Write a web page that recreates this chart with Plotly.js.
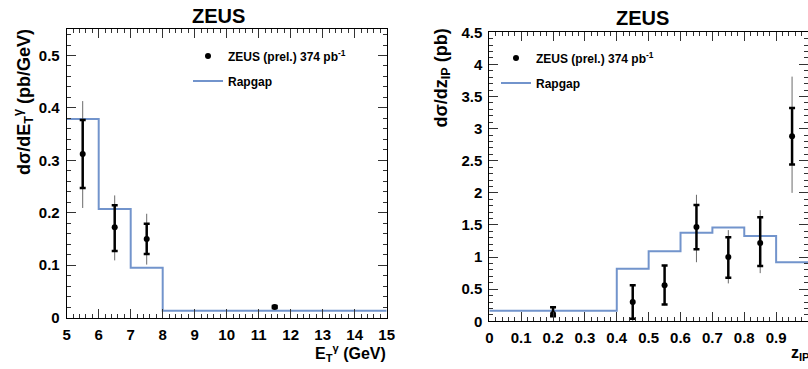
<!DOCTYPE html>
<html>
<head>
<meta charset="utf-8">
<script src="https://cdn.plot.ly/plotly-3.0.1.min.js"></script>
<style>html,body{margin:0;padding:0;background:#fff;}#chart{width:808px;height:369px;}</style>
</head>
<body>
<div id="chart"></div>
<script>
// ---- Left panel: d sigma / d E_T^gamma ----
const etX      = [5.5, 6.5, 7.5, 11.5];
const etY      = [0.312, 0.172, 0.150, 0.020];
const etStatHi = [0.377, 0.214, 0.179, 0.022];
const etStatLo = [0.247, 0.127, 0.121, 0.018];
const etTotHi  = [0.413, 0.233, 0.198, 0.023];
const etTotLo  = [0.209, 0.109, 0.101, 0.017];
const etEdges  = [5, 6, 7, 8, 15];
const etRapgap = [0.379, 0.207, 0.095, 0.013];

// ---- Right panel: d sigma / d z_IP ----
const zX      = [0.2, 0.45, 0.55, 0.65, 0.75, 0.85, 0.95];
const zY      = [0.114, 0.30, 0.56, 1.47, 1.00, 1.22, 2.88];
const zStatHi = [0.22, 0.56, 0.87, 1.81, 1.31, 1.62, 3.32];
const zStatLo = [0.08, 0.04, 0.26, 1.12, 0.68, 0.86, 2.44];
const zTotHi  = [0.23, 0.58, 0.88, 1.97, 1.42, 1.73, 3.81];
const zTotLo  = [0.07, 0.00, 0.25, 0.92, 0.59, 0.75, 2.00];
const zEdges  = [0, 0.4, 0.5, 0.6, 0.7, 0.8, 0.9, 1.0];
const zRapgap = [0.166, 0.82, 1.09, 1.38, 1.46, 1.33, 0.92];

const dataLabel = 'ZEUS (prel.) 374 pb<sup>-1</sup>';
const mcLabel = 'Rapgap';
const mcColor = '#7294cc';

function diffUp(hi, y){ return hi.map((v,i)=>v-y[i]); }
function diffDn(lo, y){ return lo.map((v,i)=>y[i]-v); }
function stepY(vals){ return vals.concat([vals[vals.length-1]]); }

function panelTraces(x, y, sHi, sLo, tHi, tLo, edges, mc, xa, ya, lgData, lgMc){
  return [
    {type:'scatter', mode:'lines', x:edges, y:stepY(mc), line:{shape:'hv', color:mcColor, width:2},
     name:mcLabel, xaxis:xa, yaxis:ya, legend:lgMc, showlegend:true, hoverinfo:'skip'},
    {type:'scatter', mode:'markers', x:x, y:y, marker:{size:1, color:'rgba(0,0,0,0)'},
     error_y:{type:'data', symmetric:false, array:diffUp(tHi,y), arrayminus:diffDn(tLo,y),
              thickness:1, width:0, color:'#6a6a6a'},
     xaxis:xa, yaxis:ya, showlegend:false, hoverinfo:'skip'},
    {type:'scatter', mode:'markers', x:x, y:y, marker:{size:6, color:'#000', symbol:'circle'},
     error_y:{type:'data', symmetric:false, array:diffUp(sHi,y), arrayminus:diffDn(sLo,y),
              thickness:2.5, width:3, color:'#000'},
     name:dataLabel, xaxis:xa, yaxis:ya, legend:lgData, showlegend:true}
  ];
}

const traces = [].concat(
  panelTraces(etX, etY, etStatHi, etStatLo, etTotHi, etTotLo, etEdges, etRapgap, 'x', 'y', 'legend', 'legend2'),
  panelTraces(zX, zY, zStatHi, zStatLo, zTotHi, zTotLo, zEdges, zRapgap, 'x2', 'y2', 'legend3', 'legend4')
);

const W = 808, H = 369;
const tickFont = {family:'Liberation Sans, Arial, sans-serif', size:15, color:'#000', weight:'bold'};
function ax(extra){
  return Object.assign({
    showline:true, linecolor:'#000', linewidth:1, mirror:'allticks',
    ticks:'inside', ticklen:9, tickwidth:1, tickcolor:'#333',
    showgrid:false, zeroline:false, tickfont:tickFont, fixedrange:true
  }, extra);
}
function minor(d){ return {ticks:'inside', ticklen:4, tickwidth:1, tickcolor:'#333', dtick:d, showgrid:false}; }
const legFont = {family:'Liberation Sans, Arial, sans-serif', size:12, color:'#000', weight:'bold'};
function leg(px, py){
  return {x:px/W, y:1-py/H, xanchor:'left', yanchor:'middle', bgcolor:'rgba(0,0,0,0)',
          borderwidth:0, font:legFont, itemwidth:30};
}
const titleFont = {family:'Liberation Sans, Arial, sans-serif', size:20, color:'#000', weight:'bold'};
const axTitleFont = {family:'Liberation Sans, Arial, sans-serif', size:18, color:'#000', weight:'bold'};
const xTitleFont = {family:'Liberation Sans, Arial, sans-serif', size:16, color:'#000', weight:'bold'};

const layout = {
  width:W, height:H, margin:{l:0, r:0, t:0, b:0},
  paper_bgcolor:'#fff', plot_bgcolor:'#fff', showlegend:true,
  xaxis: ax({domain:[66.7/W, 386.7/W], range:[5,15], tick0:5, dtick:1, anchor:'y', minor:minor(0.2), ticklabelstandoff:3}),
  yaxis: ax({domain:[1-317.5/H, 1-29.3/H], range:[0,0.55], tick0:0, dtick:0.1, anchor:'x', minor:minor(0.02), ticklabelstandoff:3}),
  xaxis2: ax({domain:[489.3/W, 1], range:[0,1.0], tick0:0, dtick:0.1, anchor:'y2', minor:minor(0.02), ticklabelstandoff:3}),
  yaxis2: ax({domain:[1-321.3/H, 1-32.3/H], range:[0,4.5], tick0:0, dtick:0.5, anchor:'x2', minor:minor(0.1), ticklabelstandoff:3}),
  legend: leg(188, 56),
  legend2: leg(188, 81),
  legend3: leg(496, 58),
  legend4: leg(496, 83),
  annotations: [
    {text:'ZEUS', xref:'paper', yref:'paper', x:218/W, y:1-16/H, xanchor:'center', yanchor:'middle', showarrow:false, font:titleFont},
    {text:'ZEUS', xref:'paper', yref:'paper', x:642/W, y:1-18/H, xanchor:'center', yanchor:'middle', showarrow:false, font:titleFont},
    {text:'dσ/dE<sub>T</sub><sup>γ</sup> (pb/GeV)', xref:'paper', yref:'paper', x:24/W, y:1-27/H, xanchor:'center', yanchor:'top', textangle:-90, showarrow:false, font:axTitleFont},
    {text:'dσ/dz<sub>IP</sub> (pb)', xref:'paper', yref:'paper', x:442/W, y:1-27/H, xanchor:'center', yanchor:'top', textangle:-90, showarrow:false, font:axTitleFont},
    {text:'E<sub>T</sub><sup>γ</sup> (GeV)', xref:'paper', yref:'paper', x:388/W, y:1-353/H, xanchor:'right', yanchor:'middle', showarrow:false, font:xTitleFont},
    {text:'z<sub>IP</sub>', xref:'paper', yref:'paper', x:812/W, y:1-353/H, xanchor:'right', yanchor:'middle', showarrow:false, font:xTitleFont}
  ]
};

Plotly.newPlot('chart', traces, layout, {displayModeBar:false, staticPlot:true});
</script>
</body>
</html>
